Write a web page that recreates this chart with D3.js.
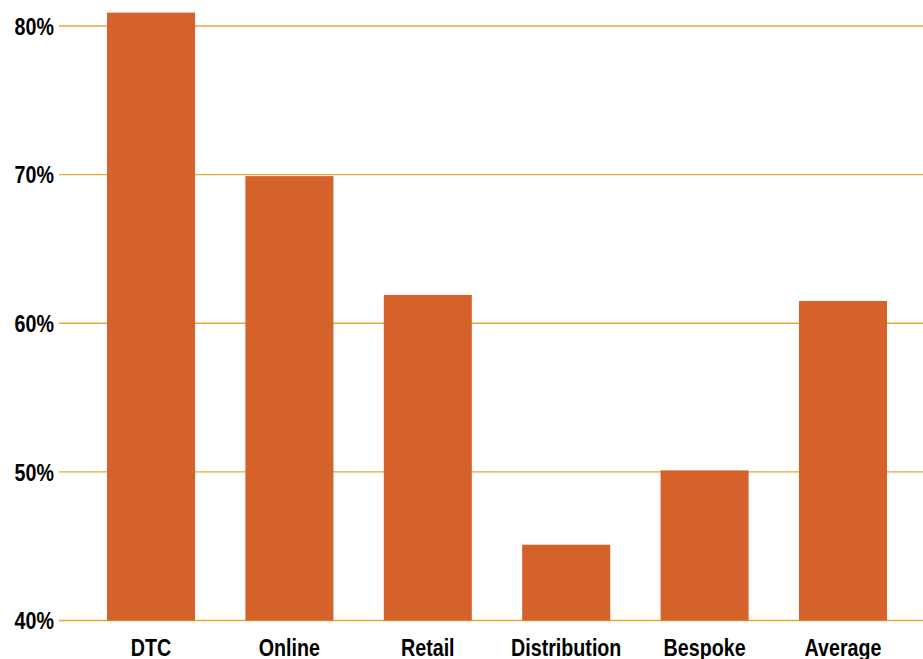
<!DOCTYPE html>
<html>
<head>
<meta charset="utf-8">
<script src="https://cdn.jsdelivr.net/npm/d3@7"></script>
<style>
  html, body { margin: 0; padding: 0; background: #fff; }
  svg { display: block; }
  text { font-family: "Liberation Sans", Arial, sans-serif; font-weight: bold; fill: #000; }
</style>
</head>
<body>
<svg id="chart" width="923" height="659"></svg>
<script>
const categories = ["DTC", "Online", "Retail", "Distribution", "Bespoke", "Average"];
const values = [80.9, 69.9, 61.9, 45.1, 50.1, 61.5];
const yTicks = [40, 50, 60, 70, 80];
const yTickLabels = ["40%", "50%", "60%", "70%", "80%"];

const W = 923, H = 659;
const condense = 0.82;
const svg = d3.select("#chart");

const x = d3.scaleBand().domain(categories).range([107, 887]).paddingInner(0.364).paddingOuter(0);
const y = d3.scaleLinear().domain([40, 80]).range([620.5, 26]);

// gridlines
svg.append("g").selectAll("line").data(yTicks).join("line")
  .attr("x1", 59).attr("x2", W)
  .attr("y1", d => y(d)).attr("y2", d => y(d))
  .attr("stroke", "#E6A935").attr("stroke-width", 1.4);

// y labels
svg.append("g").selectAll("text").data(yTicks).join("text")
  .attr("transform", d => `translate(54,${y(d)}) scale(${condense},1)`)
  .attr("dy", "0.36em")
  .attr("text-anchor", "end").attr("font-size", 24)
  .text((d, i) => yTickLabels[i]);

// bars
svg.append("g").selectAll("rect").data(values).join("rect")
  .attr("x", (d, i) => x(categories[i]))
  .attr("width", x.bandwidth())
  .attr("y", d => y(d))
  .attr("height", d => y(40) - y(d))
  .attr("fill", "#D5612B");

// x labels
svg.append("g").selectAll("text").data(categories).join("text")
  .attr("transform", d => `translate(${x(d) + x.bandwidth() / 2},656) scale(${condense},1)`)
  .attr("text-anchor", "middle").attr("font-size", 24)
  .text(d => d);
</script>
</body>
</html>
